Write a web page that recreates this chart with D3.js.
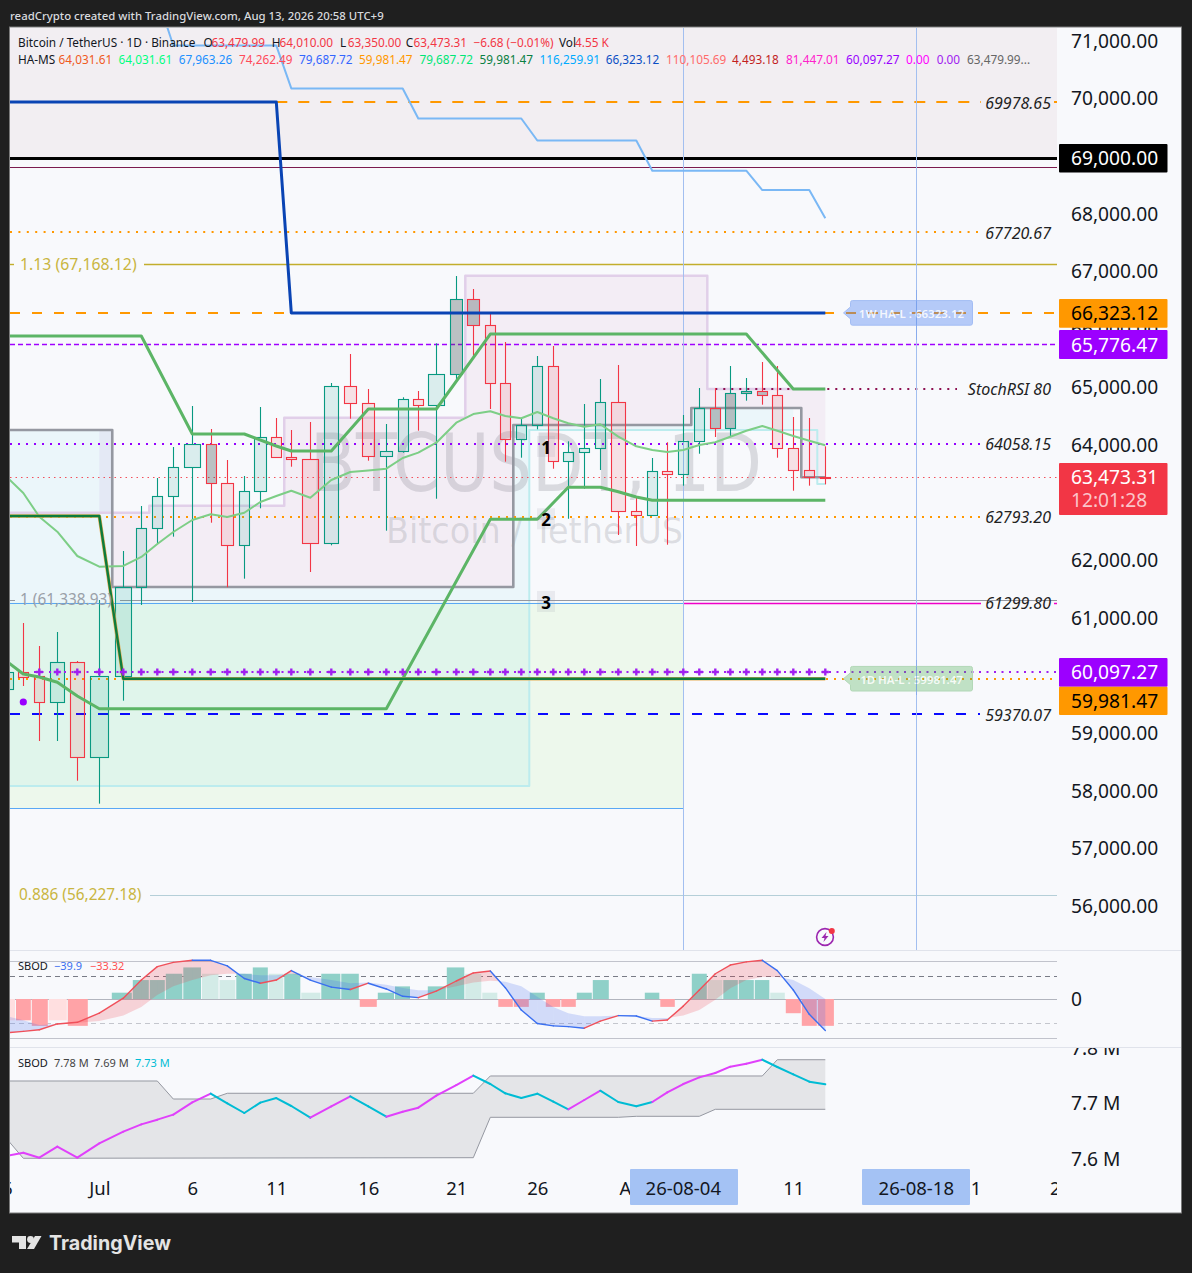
<!DOCTYPE html>
<html><head><meta charset="utf-8">
<script src="https://cdn.jsdelivr.net/npm/d3@7"></script>
<style>html,body{margin:0;padding:0;background:#1f1f1f}svg{display:block}</style>
</head><body><svg id="c" width="1192" height="1273"></svg>
<script>
// ---------- DATA ----------
const candleDays=d3.range(-5,44);
const opens =[59798,60098,60024,59566,60267,58620,60024,61567,62589,63144,63647,64045,63369,62294,63231,64167,63820,63785,62329,65051,64756,63837,63924,64825,64721,65259,66559,66108,65103,64132,64375,65397,63750,63907,63976,64773,62884,62814,63577,63525,64097,64669,64323,64929,64964,64895,63976,63595,63479.99];
const closes=[60098,60017,59566,60267,58620,60024,61567,62589,63144,63647,64045,63369,62294,63231,64167,63820,63785,62329,65051,64749,63837,63924,64825,64721,65259,66559,66108,65103,64132,64375,65397,63750,63907,63976,64773,62884,62808,63577,63525,64097,64669,64323,64929,64964,64895,63976,63595,63480,63473.31];
const highs =[60300,60948,60549,60792,60289,61346,62196,62976,63461,63998,64709,64310,63773,63496,64692,64501,64293,64432,65108,65610,65004,64397,64860,64969,65796,66962,66737,66316,65818,64489,65576,65749,64097,64744,65177,65420,63149,63808,64080,64553,65021,65021,65402,65194,65472,65402,64518,64501,64010];
const lows  =[59650,59855,58902,58902,58214,57816,59601,61260,62334,62444,61312,62686,61567,61716,62936,63820,63657,61832,62294,64489,63761,62548,63900,64281,63102,65160,65553,64657,63744,63813,64305,63622,62755,63276,63600,62473,62282,62814,62305,63328,63882,64172,64172,64801,64732,63813,63241,63328,63350];
const darkBodies=[6,20,21,36,37,38,39];
const greenSmaDays=d3.range(-6,44);
const greenSma=[63773,63461,63201,62790,62530,62109,61924,61936,62092,62317,62525,62733,62832,62785,62859,63045,63149,63241,63119,63427,63565,63591,63622,63808,63900,64073,64420,64570,64617,64536,64496,64605,64496,64409,64350,64392,64177,64011,63947,63912,63947,64033,64080,64177,64281,64362,64281,64189,64108,64028];
const weeklyStep=[[3,71799],[4,70957],[10,70957],[11,70214],[17,70214],[18,69693],[24,69693],[25,69311],[31,69311],[32,68788],[38,68788],[39,68453],[42,68453],[43,67963.26]];
const haWeeklyLow=[[-6,69978.65],[10,69978.65],[11,66323.12],[43,66323.12]];
const upperGreen=[[-6,65922],[2,65922],[5,64224],[8,64224],[10,64016],[11,63929],[13,63929],[15,64657],[19,64657],[22,65957],[38,65957],[41,65004],[43,65004]];
const lowerGreen=[[-6,60479],[-4,60064],[-3,60012],[-2,59920],[-1,59682],[0,59462],[16,59462],[22,62745],[25,62745],[27,63300],[29,63300],[30,63223],[31,63131],[32,63074],[43,63074]];
const haDailyLow=[[-6,62802],[0,62802],[1,59981.47],[43,59981.47]];
const greyStep=[[-6,64293],[0.54,64293],[0.54,61572],[23.5,61572],[23.5,64380],[34.5,64380],[34.5,64674],[41.5,64674],[41.5,63473],[43,63473]];
const pinkStep=[[-6,62860],[2.5,62860],[2.5,62980],[10.53,62980],[10.53,64506],[20.53,64506],[20.53,66967],[35.5,66967],[35.5,65004],[43,65004]];
const cyanOutline=[[-6,58122],[24.5,58122],[24.5,64293],[42.5,64293],[42.5,63357],[43,63357]];
const fib={f113:67168.12,f1:61338.93,f886:56227.18};
const priceLines={black:69000,maroon:68850,orange1:69978.65,orange2:67720.67,orange3:66323.12,purple1:65776.47,stoch:65004,purple2:64058.15,last:63473.31,orange4:62793.20,magenta:61299.80,purple3:60097.27,orange5:59981.47,blue:59370.07};
const rightLabels=[[69978.65,"69978.65"],[67720.67,"67720.67"],[65004,"StochRSI 80"],[64058.15,"64058.15"],[62793.20,"62793.20"],[61299.80,"61299.80"],[59370.07,"59370.07"]];
const priceTicks=d3.range(56000,71001,1000);
const timeTickDays=[-5.4,0,5,10,15,20,25,31,41,51,56];
const timeTickLabels=["26","Jul","6","11","16","21","26","Aug","11","21","26"];
const histogram=[-27,-27,-34,-27,-34,0,8,24,24,32,40,32,24,32,40,32,32,8,32,32,-10,8,16,0,16,40,32,8,-10,-10,8,-10,-10,8,24,0,0,8,-10,0,32,24,24,24,24,8,-18,-34,-34];
const histFaded=[-5,-2,6,7,10,12,21,22,36,40];
const oscillator=[-42.6,-41,-39,-31.6,-29.5,-18,1,24,41,46.4,49,49,42,26,20,24,36,24,15,12,20,12.7,3.4,1.7,10,22.8,33,35.4,14.3,-14,-31,-34,-35,-37,-28,-21,-21.5,-28,-26.6,-9,11.4,32,43,47,49,36,11.4,-19.4,-40];
const oscSignal=[-22,-27,-33,-32,-30,-28,-21,-10,5,16,24,30,32,32,30,30,32,28,24,20,21,18,14,11,11,16,21,23,22,16,3,-10,-18,-22,-22,-21,-21.5,-24,-24,-21,-14,-1,13.5,24,28,28,24,13.5,0];
const oscLevels=[48,29,0,-30,-50];
const obv=[7.6059,7.6113,7.6022,7.6222,7.6022,7.6283,7.6494,7.6627,7.6712,7.6803,7.7027,7.7184,7.7009,7.6833,7.7021,7.7105,7.696,7.6748,7.6954,7.7136,7.6954,7.6766,7.6857,7.693,7.7148,7.7341,7.7511,7.7359,7.719,7.7105,7.7184,7.7039,7.69,7.7069,7.7238,7.7033,7.6954,7.7033,7.7208,7.7359,7.748,7.7559,7.7674,7.7728,7.7801,7.7668,7.7535,7.7402,7.7353];
const obvDownRanges=[[6,12],[14,16],[21,27],[29,32],[39,43]];
const bandUpper=[[-6,7.7414],[3,7.7414],[4,7.7087],[6,7.7087],[7,7.7191],[21,7.7191],[22,7.7505],[39,7.7505],[40,7.78],[43,7.78]];
const bandLower=[[-6,7.66],[-5,7.6343],[-4,7.6011],[21,7.6022],[22,7.6755],[30,7.6755],[31,7.6773],[35,7.6773],[36,7.69],[43,7.69]];
const obvTicks=[7.6,7.7,7.8];
const legend1=["Bitcoin / TetherUS · 1D · Binance"];
const legendOHLC=[["O","63,479.99",203.6],["H","64,010.00",271.7],["L","63,350.00",340],["C","63,473.31",405.7]];
const legendHA=[["64,031.61","#f05a22"],["64,031.61","#00ff7f"],["67,963.26","#2090ff"],["74,262.49","#ff4a5a"],["79,687.72","#3366ff"],["59,981.47","#ff9800"],["79,687.72","#00e676"],["59,981.47","#0b8043"],["116,259.91","#00aaff"],["66,323.12","#0b4ec4"],["110,105.69","#ff6b6b"],["4,493.18","#c21f1f"],["81,447.01","#ff22cc"],["60,097.27","#9900ff"],["0.00","#ff00ff"],["0.00","#a020f0"],["63,479.99...","#666666"]];

// ---------- LAYOUT ----------
const F='"Noto Sans",sans-serif';
const barWidths=[10,10,10,14,14,18,16,10,10,10,16,10,12,10,12,10,10,16,14,12,12,12,10,10,16,12,12,10,10,10,10,10,10,10,10,14,10,10,10,10,10,10,10,10,10,10,10,10,10];
const xDomain=[-6,-5,-4,-3,-2,-1,0,1,2,3,4,5,6,7,8,9,10,11,12,13,14,15,16,17,18,19,20,21,22,23,24,25,26,27,28,29,30,31,32,33,34,35,36,37,38,39,40,41,42,43,48,56];
const xRange=[-8,7.7,23.3,39.3,57.3,77.3,99.3,123.3,141.3,157.3,173.3,192.3,210.7,227.3,244.3,260.3,276.3,291.3,310.3,331.3,350.3,368.3,386.3,402.7,418.3,436.3,456.3,473.3,490.3,505.3,521.3,537.3,553.3,568.3,584.3,600.3,618.3,636.3,652.3,667.3,683.3,699.3,715.3,730.3,746.3,762.3,777.3,793.3,809.3,825.3,916.3,1060];
const x=d3.scaleLinear().domain(xDomain).range(xRange);
const y=d3.scaleLinear().domain([69978.65,59370.07]).range([102,714]);
const yOsc=d3.scaleLinear().domain([0,-39.9]).range([999,1030.5]);
const yObv=d3.scaleLinear().domain([7.7,7.6]).range([1103.8,1158.9]);
const L=10,R=1057,AR=1181,BG="#f8f9fc",PINK="#f2eef2";
const TEAL="#089981",RED="#f23645",AXS=19.2;

const svg=d3.select("#c");
svg.append("rect").attr("width",1192).attr("height",1273).attr("fill","#1f1f1f");
svg.append("rect").attr("x",L-.5).attr("y",27).attr("width",AR-L+1).attr("height",1186).attr("fill",BG).attr("stroke","#7a7a7a");
const defs=svg.append("defs");
function clip(id,a,b,w,h){defs.append("clipPath").attr("id",id).append("rect").attr("x",a).attr("y",b).attr("width",w).attr("height",h);}
clip("cMain",L,28,R-L,922);clip("cOsc",L,951,R-L,96);clip("cObv",L,1048,R-L,122);
clip("cAx",R,28,AR-R,1019.5);clip("cTime",L,1170,R-L,42);

const main=svg.append("g").attr("clip-path","url(#cMain)");
const lineP=d3.line().x(d=>x(d[0])).y(d=>y(d[1]));
function tx(g,a,b,t,o={}){return g.append("text").attr("x",a).attr("y",b).text(t).attr("font-family",o.f||F).attr("font-size",o.s||12).attr("fill",o.c||"#131722").attr("font-style",o.i||null).attr("font-weight",o.w||null).attr("text-anchor",o.a||"start").attr("dominant-baseline",o.b||"central");}
function h(p,a,b,c,w,d,g=main){const yy=Math.round(y(p))+(w%2?.5:0);return g.append("line").attr("x1",a).attr("x2",b).attr("y1",yy).attr("y2",yy).attr("stroke",c).attr("stroke-width",w).attr("stroke-dasharray",d||null);}

// backgrounds
main.append("rect").attr("x",L).attr("y",28).attr("width",R-L).attr("height",y(priceLines.black)-28).attr("fill",PINK);
// green zone
main.append("rect").attr("x",L).attr("y",y(priceLines.magenta)).attr("width",x(34)-L).attr("height",y(57736)-y(priceLines.magenta)).attr("fill","#edf8ec");
// cyan cloud
const cyanTop=greyStep.filter(d=>d[0]<=23.5).concat([[24.5,64380]]);
main.append("path").attr("d",d3.area().x(d=>x(d[0])).y1(d=>y(d[1])).y0(y(58122))(cyanTop)).attr("fill","rgba(0,188,212,0.052)");
// pink cloud
const pinkFwd=[[0.54,62860]].concat(pinkStep.filter(d=>d[0]>0.54));
const greyBack=greyStep.filter(d=>d[0]>=0.54).slice(1).reverse();
main.append("path").attr("d",lineP(pinkFwd.concat(greyBack))+"Z").attr("fill","rgba(240,229,240,0.62)");
main.append("rect").attr("x",x(0)).attr("width",x(0.54)-x(0)).attr("y",y(64293)).attr("height",y(62860)-y(64293)).attr("fill","rgba(190,170,225,0.16)");
// cyan strip
main.append("path").attr("d",d3.area().x(d=>x(d[0])).y1(d=>y(d[1])).y0(y(64293))([[24.5,64380],[34.5,64380],[34.5,64674],[41,64674]])).attr("fill","rgba(0,188,212,0.052)");
// watermark
tx(main,310,463,"BTCUSDT, 1D",{s:80,c:"rgba(120,123,134,0.24)",f:'"DejaVu Sans",sans-serif'}).attr("textLength",452).attr("lengthAdjust","spacingAndGlyphs");
tx(main,386,531,"Bitcoin / TetherUS",{s:35,c:"rgba(120,123,134,0.22)",f:'"DejaVu Sans",sans-serif'}).attr("textLength",297).attr("lengthAdjust","spacingAndGlyphs");

function pl(data,c,w,g=main,scale=lineP){return g.append("path").attr("d",scale(data)).attr("fill","none").attr("stroke",c).attr("stroke-width",w).attr("stroke-linejoin","round");}
pl(cyanOutline,"#bcecee",2);
pl(pinkStep,"#e1cfe9",2.5);
pl(greyStep,"#9598a1",2.6);

// fib and horizontal levels
h(priceLines.maroon,L,R,"#7b1c4f",1);
h(priceLines.black,L,R,"#000",3);
h(priceLines.orange1,x(10),R,"#ff9800",2,"11 11");
h(priceLines.orange2,L,980,"#ff9800",2,"2 6.4");
h(fib.f113,144,R,"#c2ae2c",1.4);h(fib.f113,L,14,"#c2ae2c",1.4);
h(priceLines.orange3,L,R,"#ff9800",2,"10 12");
h(priceLines.purple1,L,R,"#a000ff",1.4,"5 3");
h(priceLines.purple2,L,980,"#9400ff",2,"2 6");
h(priceLines.orange4,L,980,"#ff9800",2,"2 6");
h(priceLines.orange5,L,R,"#ff9800",2,"2 6");
h(priceLines.blue,L,980,"#0a0aff",2,"10 12");
h(fib.f886,150,R,"#b5cfd8",1);
h(priceLines.magenta,L,x(34),"#5aa8f5",1);
h(priceLines.magenta,x(34),R,"#f000c8",1.4);
h(57736,L,x(34),"#5aa8f5",1);
h(priceLines.stoch,x(36),957,"#8c0f50",2,"2 6");
h(priceLines.last,L,R,"#f2505c",1,"1.5 4");
// right-label masks
rightLabels.forEach(d=>{main.append("rect").attr("x",d[1].length>8?958:981).attr("y",y(d[0])-9).attr("width",d[1].length>8?96:73).attr("height",18).attr("fill",d[0]>69000?PINK:BG);});
h(fib.f1,120,R,"#9598a1",1);h(fib.f1,L,15,"#9598a1",1);
main.append("line").attr("x1",683.5).attr("x2",683.5).attr("y1",28).attr("y2",950).attr("stroke","#a3bff0");
main.append("line").attr("x1",916.5).attr("x2",916.5).attr("y1",28).attr("y2",950).attr("stroke","#a3bff0");

// candles
const candles=candleDays.map((t,i)=>({t,o:opens[i],c:closes[i],h:highs[i],l:lows[i],w:barWidths[i],up:closes[i]>=opens[i],dark:darkBodies.includes(t)}));
const cg=main.append("g");
const cand=cg.selectAll("g").data(candles).join("g");
const cx=d=>Math.round(x(d.t))+.5;
const bodyTop=d=>Math.round(y(Math.max(d.o,d.c)))+.5;
const bodyH=d=>Math.max(1,Math.round(Math.abs(y(d.o)-y(d.c))));
cand.append("line").attr("x1",cx).attr("x2",cx).attr("y1",d=>y(d.h)).attr("y2",bodyTop).attr("stroke",d=>d.up?TEAL:RED).attr("stroke-width",1.1);
cand.append("line").attr("x1",cx).attr("x2",cx).attr("y1",d=>bodyTop(d)+bodyH(d)).attr("y2",d=>y(d.l)).attr("stroke",d=>d.up?TEAL:RED).attr("stroke-width",1.1);
cand.append("rect").attr("x",d=>cx(d)-d.w/2).attr("width",d=>d.w).attr("y",bodyTop).attr("height",bodyH).attr("fill",d=>d.dark?"rgba(70,85,85,0.34)":d.up?"rgba(8,153,129,0.12)":"rgba(242,54,69,0.12)").attr("stroke",d=>d.up?TEAL:RED).attr("stroke-width",1.1);

// indicator lines
pl(weeklyStep,"#7ab8f5",2);
pl(greenSmaDays.map((t,i)=>[t,greenSma[i]]),"#7dce86",2);
pl(upperGreen,"#5cb566",3);
pl(lowerGreen,"#5cb566",3);
pl(haDailyLow,"#e6ad55",3.6);
pl(haDailyLow,"#0d7c3d",2.4);
pl(haWeeklyLow,"#0a44b4",3);
// plus-dotted line
h(priceLines.purple3,34,R,"#a020f0",2,"2 5.5");
main.append("g").selectAll("path").data(candleDays.filter(t=>t>-4)).join("path")
 .attr("d",d3.symbol(d3.symbolCross,28)).attr("transform",t=>`translate(${x(t)},${y(priceLines.purple3)})`).attr("fill","#a020f0");
main.append("circle").attr("cx",x(-4)).attr("cy",y(59578)).attr("r",3.6).attr("fill","#9900ff");

// labelled numbers
[["1",64000],["2",62745],["3",61312]].forEach(d=>{
 main.append("rect").attr("x",537).attr("y",y(d[1])-11).attr("width",18).attr("height",21).attr("fill","rgba(150,150,165,0.15)");
 tx(main,546,y(d[1])+.5,d[0],{s:17,w:700,a:"middle",c:"#000"});
});
// fib labels
tx(main,20,263.5,"1.13 (67,168.12)",{s:15.8,c:"#c9b53f"});
tx(main,20,599.5,"1 (61,338.93)",{s:15.4,c:"#9aa0a8"});
tx(main,19,894.5,"0.886 (56,227.18)",{s:15.4,c:"#c9b53f"});
rightLabels.forEach(d=>tx(main,1051,y(d[0])+.5,d[1],{s:16,i:"italic",a:"end",c:"#222"}));

// pills
function pill(p,label,fill,stroke,yc){const t=x(44),a=t+7,b=a+122,c=yc,hh=12.3;
 main.append("path").attr("d",`M${t},${c}L${a},${c-6}V${c-hh+2}Q${a},${c-hh} ${a+2},${c-hh}H${b-2}Q${b},${c-hh} ${b},${c-hh+2}V${c+hh-2}Q${b},${c+hh} ${b-2},${c+hh}H${a+2}Q${a},${c+hh} ${a},${c+hh-2}V${c+6}Z`).attr("fill",fill).attr("stroke",stroke);
 tx(main,a+61,c+.5,label,{s:11.5,a:"middle",c:"rgba(255,255,255,0.85)",w:600});}
pill(66323.12,"1W HA-L : 66323.12","rgba(64,120,242,0.36)","#a3bdf4",y(66323.12));
pill(59981.47,"1D HA-L : 59981.47","rgba(76,175,80,0.32)","#b3d8b7",y(59981.47));
main.append("line").attr("x1",916.5).attr("x2",916.5).attr("y1",290).attr("y2",340).attr("stroke","rgba(120,160,235,0.6)");
main.append("line").attr("x1",916.5).attr("x2",916.5).attr("y1",660).attr("y2",695).attr("stroke","rgba(120,160,235,0.6)");

// alert icon
const ic=main.append("g").attr("transform","translate(825,937)");
ic.append("circle").attr("r",8.4).attr("fill","none").attr("stroke","#9c27b0").attr("stroke-width",1.6);
ic.append("path").attr("d","M1.5,-5L-3.5,1H-0.5L-1.5,5L3.5,-1H0.5Z").attr("fill","#9c27b0");
ic.append("circle").attr("cx",6.8).attr("cy",-6).attr("r",3).attr("fill",RED);

// legend
tx(main,18,41.5,legend1[0],{s:11.8});
legendOHLC.forEach(d=>{tx(main,d[2],41.5,d[0],{s:11.8});tx(main,d[2]+7.8,41.5,d[1],{s:11.8,c:RED});});
tx(main,473.4,41.5,"−6.68 (−0.01%)",{s:11.8,c:RED});
tx(main,559,41.5,"Vol",{s:11.8});tx(main,575,41.5,"4.55 K",{s:11.8,c:RED});
tx(main,18,59,"HA-MS",{s:11.8});
const haX=[58.6,118.6,178.7,239,299,359,419.4,479.5,539.6,605.7,666,732,786,846,906,936.7,967];
legendHA.forEach((d,i)=>tx(main,haX[i],59,d[0],{s:11.8,c:d[1]}));

// price axis
const axG=svg.append("g").attr("clip-path","url(#cAx)");
const axPrice=axG.append("g").attr("transform",`translate(${R+1},-2)`).call(d3.axisRight(y).tickValues(priceTicks).tickFormat(d3.format(",.2f")).tickSize(0).tickPadding(13));
axPrice.select(".domain").remove();
axPrice.selectAll("text").attr("font-family",F).attr("font-size",AXS).attr("fill","#131722");
function tag(a,b,fill,txt,col){axG.append("rect").attr("x",1059).attr("y",a).attr("width",108.5).attr("height",b-a).attr("fill",fill).attr("rx",1);
 tx(axG,1071,(a+b)/2-.5,txt,{s:AXS,c:col});}
tag(144,172.5,"#000","69,000.00","#fff");
tag(299,327.7,"#ff9800","66,323.12","#000");
tag(330,359,"#9c00ff","65,776.47","#fff");
axG.append("rect").attr("x",1059).attr("y",463).attr("width",108.5).attr("height",52).attr("fill",RED).attr("rx",1);
tx(axG,1071,476.5,"63,473.31",{s:AXS,c:"#fff"});tx(axG,1071,499.5,"12:01:28",{s:AXS,c:"rgba(255,255,255,0.72)"});
tag(658,686.7,"#9c00ff","60,097.27","#fff");
tag(686.7,715,"#ff9800","59,981.47","#000");

// oscillator pane
svg.append("line").attr("x1",L).attr("x2",AR).attr("y1",950.5).attr("y2",950.5).attr("stroke","#e0e3eb");
svg.append("line").attr("x1",L).attr("x2",AR).attr("y1",1047.5).attr("y2",1047.5).attr("stroke","#e0e3eb");
const og=svg.append("g").attr("clip-path","url(#cOsc)");
oscLevels.forEach((v,i)=>{const yy=Math.round(yOsc(v))+.5;const st=[["#c1c3cc",null],["#787b86","5 4"],["#b2b5be",null],["#c4c6cd","5 4"],["#c1c3cc",null]][i];
 og.append("line").attr("x1",L).attr("x2",R).attr("y1",yy).attr("y2",yy).attr("stroke",st[0]).attr("stroke-width",i==0||i==4?1.2:1).attr("stroke-dasharray",st[1]);});
const histData=candleDays.map((t,i)=>({t,v:histogram[i],f:histFaded.includes(t)}));
og.selectAll("rect.h").data(histData.filter(d=>d.v!==0)).join("rect").attr("class","h")
 .attr("x",d=>x(d.t-.5)+.5).attr("width",d=>x(d.t+.5)-x(d.t-.5)-1)
 .attr("y",d=>Math.min(yOsc(d.v),yOsc(0))).attr("height",d=>Math.abs(yOsc(d.v)-yOsc(0)))
 .attr("fill",d=>d.v>0?(d.f?"#d3ebe7":"#8fd0c8"):(d.f?"#ffdfe0":"#ffa3a7"));
const areaOsc=d3.area().x(d=>x(d[0])).y0(d=>yOsc(d[1])).y1(d=>yOsc(d[2]));
candleDays.slice(1).forEach((t,k)=>{const a=[t-1,oscillator[k],oscSignal[k]],b=[t,oscillator[k+1],oscSignal[k+1]];
 const d0=a[1]-a[2],d1=b[1]-b[2];let segs=[[a,b]];
 if(d0*d1<0){const f=d0/(d0-d1),m=[a[0]+f,a[1]+f*(b[1]-a[1]),a[2]+f*(b[2]-a[2])];segs=[[a,m],[m,b]];}
 segs.forEach(s=>{const up=(s[0][1]-s[0][2]+s[1][1]-s[1][2])>0;
  og.append("path").attr("d",areaOsc(s)).attr("fill",up?"rgba(242,54,69,0.2)":"rgba(60,100,240,0.2)");});
 og.append("line").attr("x1",x(a[0])).attr("x2",x(b[0])).attr("y1",yOsc(a[1])).attr("y2",yOsc(b[1])).attr("stroke",b[1]>a[1]?"#f0505a":"#3a6ff0").attr("stroke-width",1.4).attr("stroke-linecap","round");
});
tx(svg,18,965.5,"SBOD",{s:11});tx(svg,54,965.5,"−39.9",{s:11,c:"#3a6ff0"});tx(svg,90,965.5,"−33.32",{s:11,c:"#ff5252"});
tx(svg,1071,998,"0",{s:AXS});

// OBV pane
const ob=svg.append("g").attr("clip-path","url(#cObv)");
const lineO=d3.line().x(d=>x(d[0])).y(d=>yObv(d[1]));
const bandAll=bandUpper.concat(bandLower.slice().reverse());
ob.append("path").attr("d",lineO(bandAll)+"Z").attr("fill","#e4e5e8");
pl(bandUpper,"#9598a1",1,ob,lineO);pl(bandLower,"#9598a1",1,ob,lineO);
candleDays.slice(1).forEach((t,k)=>{const down=obvDownRanges.some(r=>t>r[0]&&t<=r[1]);
 ob.append("line").attr("x1",x(t-1)).attr("x2",x(t)).attr("y1",yObv(obv[k])).attr("y2",yObv(obv[k+1])).attr("stroke",down?"#00bcd4":"#e040fb").attr("stroke-width",2).attr("stroke-linecap","round");});
tx(svg,18,1062.5,"SBOD",{s:11});tx(svg,54,1062.5,"7.78 M",{s:11,c:"#444"});tx(svg,94,1062.5,"7.69 M",{s:11,c:"#444"});tx(svg,135,1062.5,"7.73 M",{s:11,c:"#00bcd4"});
const axO=svg.append("g").attr("clip-path","url(#cAxO)");
clip("cAxO",R,1048,AR-R,122);
const axObv=axO.append("g").attr("transform",`translate(${R+1},0)`).call(d3.axisRight(yObv).tickValues(obvTicks).tickFormat(v=>v.toFixed(1)+" M").tickSize(0).tickPadding(13));
axObv.select(".domain").remove();
axObv.selectAll("text").attr("font-family",F).attr("font-size",AXS).attr("fill","#131722");

// time axis
const tg=svg.append("g").attr("clip-path","url(#cTime)");
const axT=tg.append("g").attr("transform","translate(0,1182)").call(d3.axisBottom(x).tickValues(timeTickDays).tickFormat((d,i)=>timeTickLabels[i]).tickSize(0).tickPadding(0));
axT.select(".domain").remove();
axT.selectAll("text").attr("font-family",F).attr("font-size",18.5).attr("fill","#131722").attr("dy","0.71em");
[[34,"26-08-04",630],[48,"26-08-18",862]].forEach(d=>{
 svg.append("rect").attr("x",d[2]).attr("y",1169).attr("width",108).attr("height",36).attr("fill","#a4c2f4").attr("rx",1);
 tx(svg,x(d[0]),1187.5,d[1],{s:18.5,a:"middle"});
});

// header & footer
tx(svg,10,15,"readCrypto created with TradingView.com, Aug 13, 2026 20:58 UTC+9",{s:11.4,c:"#d8dade",w:500});
const lg=svg.append("g").attr("fill","#e4e4e4");
lg.append("path").attr("d","M12,1236H26V1249H19V1242.5H12Z");
lg.append("circle").attr("cx",30.5).attr("cy",1239.5).attr("r",3.4);
lg.append("path").attr("d","M35,1236H41.5L34,1249H27Z");
tx(svg,49,1243,"TradingView",{s:19.7,w:700,c:"#e4e4e4",f:'"Inter","Noto Sans",sans-serif'});
</script></body></html>
